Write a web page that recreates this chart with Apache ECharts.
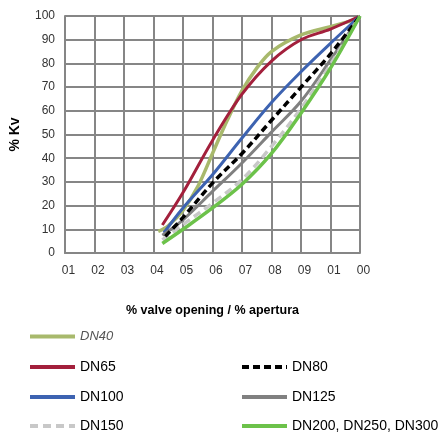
<!DOCTYPE html>
<html>
<head>
<meta charset="utf-8">
<script src="https://cdn.jsdelivr.net/npm/echarts@6/dist/echarts.min.js"></script>
<style>html,body{margin:0;padding:0;background:#fff}#c{width:447px;height:435px}</style>
</head>
<body>
<div id="c"></div>
<script>
const xTickLabels = ['01','02','03','04','05','06','07','08','09','01','00'];
const yTicks = [0,10,20,30,40,50,60,70,80,90,100];

const dn40X = [31.6, 35, 40, 45, 50, 55, 60, 65, 70, 80, 90, 100];
const dn40Y = [9.1, 11.5, 18, 28, 42, 56, 68.5, 78, 85, 92, 95.5, 99];

const dn65X = [33, 40, 50, 60, 70, 80, 90, 100];
const dn65Y = [11.8, 25.5, 47.5, 67, 81, 90, 94.5, 100];

const dn80X = [34, 40, 50, 60, 70, 80, 90, 100];
const dn80Y = [7, 15, 29.5, 42, 56, 70, 84, 100];

const dn100X = [33.5, 40, 50, 60, 70, 80, 90, 100];
const dn100Y = [8.5, 19, 33, 48.5, 63.5, 76.5, 88.5, 100];

const dn125X = [33, 40, 50, 60, 70, 80, 90, 100];
const dn125Y = [7.5, 14, 26, 38, 51, 64, 81.5, 100];

const dn150X = [33, 40, 50, 60, 70, 80, 90, 100];
const dn150Y = [5.5, 12, 21, 31, 45, 61, 79.5, 100];

const dn200X = [33, 40, 50, 60, 70, 80, 90, 100];
const dn200Y = [4, 10, 19, 29, 42, 59, 78, 100];

const seriesNames = ['DN40', 'DN65', 'DN80', 'DN100', 'DN125', 'DN150', 'DN200, DN250, DN300'];

function pts(xs, ys) { return xs.map((x, i) => [x, ys[i]]); }

const FONT = 'Liberation Sans';
const chart = echarts.init(document.getElementById('c'), null, {renderer: 'canvas'});

function mk(name, xs, ys, color, width, type, z) {
  return {
    name: name, type: 'line', data: pts(xs, ys), smooth: 0.35,
    symbol: 'none', z: z,
    lineStyle: {color: color, width: width, type: type, cap: 'butt'},
    itemStyle: {color: color}
  };
}

function leg(item, left, top) {
  return {
    left: left, top: top, padding: 0, itemWidth: 45, itemHeight: 14, itemGap: 5,
    itemStyle: {opacity: 0},
    lineStyle: {width: 4},
    textStyle: {fontFamily: FONT, fontSize: 14, color: '#000'},
    data: [item]
  };
}

const option = {
  animation: false,
  grid: {left: 64, top: 16, right: 87, bottom: 182, containLabel: false},
  xAxis: {
    type: 'value', min: 0, max: 100, interval: 10,
    name: '% valve opening / % apertura', nameLocation: 'middle', nameGap: 51,
    nameTextStyle: {fontFamily: FONT, fontWeight: 'bold', fontSize: 12.5, color: '#000'},
    axisLine: {show: true, lineStyle: {color: '#868686', width: 2}},
    axisTick: {show: false},
    axisLabel: {fontFamily: FONT, fontSize: 12, color: '#333', margin: 12, padding: [0,0,0,7],
      formatter: v => xTickLabels[Math.round(v / 10)]},
    splitLine: {show: true, lineStyle: {color: '#868686', width: 2}}
  },
  yAxis: {
    type: 'value', min: 0, max: 100, interval: 10,
    name: '% Kv', nameLocation: 'middle', nameGap: 43, nameRotate: 90,
    nameTextStyle: {fontFamily: FONT, fontWeight: 'bold', fontSize: 14, color: '#000'},
    axisLine: {show: true, lineStyle: {color: '#868686', width: 2}},
    axisTick: {show: false},
    axisLabel: {fontFamily: FONT, fontSize: 12, color: '#333', margin: 10,
      formatter: v => String(yTicks[Math.round(v / 10)])},
    splitLine: {show: true, lineStyle: {color: '#868686', width: 2}}
  },
  legend: [
    leg({name: seriesNames[0], textStyle: {fontStyle: 'italic', color: '#555', fontSize: 13}}, 28, 330),
    leg(seriesNames[1], 28, 360),
    leg(seriesNames[3], 28, 390),
    leg(seriesNames[5], 28, 419),
    leg(seriesNames[2], 240, 360),
    leg(seriesNames[4], 240, 390),
    leg(seriesNames[6], 240, 419)
  ],
  series: [
    mk(seriesNames[0], dn40X, dn40Y, '#a8b96c', 3.5, 'solid', 2),
    mk(seriesNames[1], dn65X, dn65Y, '#a3203c', 3, 'solid', 2),
    mk(seriesNames[2], dn80X, dn80Y, '#000000', 3.5, [7, 4], 3),
    mk(seriesNames[3], dn100X, dn100Y, '#3d63b1', 3, 'solid', 2),
    mk(seriesNames[4], dn125X, dn125Y, '#808080', 3, 'solid', 2),
    mk(seriesNames[5], dn150X, dn150Y, '#c8c8c8', 3.5, [8, 5], 2),
    mk(seriesNames[6], dn200X, dn200Y, '#6cc24a', 3.5, 'solid', 4)
  ]
};
chart.setOption(option);
</script>
</body>
</html>
